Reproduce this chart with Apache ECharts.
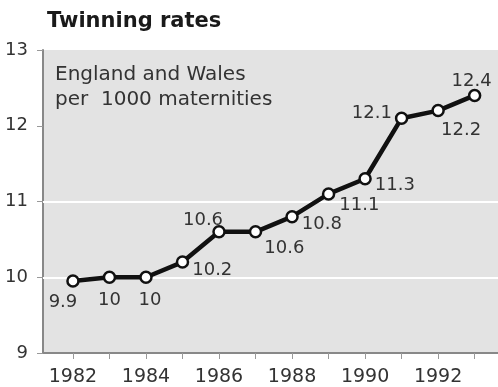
<!DOCTYPE html>
<html>
<head>
<meta charset="utf-8">
<script src="https://cdn.jsdelivr.net/npm/echarts@6/dist/echarts.min.js"></script>
<style>
  html, body { margin: 0; padding: 0; background: #fff; }
  #main { width: 498px; height: 387px; }
</style>
</head>
<body>
<div id="main"></div>
<script>
  // data
  var years = [1982, 1983, 1984, 1985, 1986, 1987, 1988, 1989, 1990, 1991, 1992, 1993];
  var rates = [9.95, 10, 10, 10.2, 10.6, 10.6, 10.8, 11.1, 11.3, 12.1, 12.2, 12.4];
  var rateLabels = ['9.9', '10', '10', '10.2', '10.6', '10.6', '10.8', '11.1', '11.3', '12.1', '12.2', '12.4'];
  var yearTicks = [1982, 1984, 1986, 1988, 1990, 1992];
  var whiteLines = [10, 11];

  // where each value label sits around its point (layout only)
  var labelPlace = [
    ['bottom', [-10, 0]], ['bottom', [0, 1]], ['bottom', [4, 1]], ['right', [-3, 8]],
    ['top', [-16, 10]], ['right', [-4, 17]], ['right', [-3, 8]], ['right', [-2, 11]],
    ['right', [-3, 7]], ['left', [3, -5]], ['bottom', [23, -2]], ['top', [-3, 8]]
  ];

  var font = '"DejaVu Sans", Verdana, sans-serif';
  var chart = echarts.init(document.getElementById('main'));

  var points = years.map(function (y, i) {
    return {
      value: [y, rates[i]],
      label: { position: labelPlace[i][0], offset: labelPlace[i][1], formatter: rateLabels[i] }
    };
  });

  chart.setOption({
    animation: false,
    title: {
      text: 'Twinning rates',
      left: 42,
      top: 6,
      textStyle: { fontFamily: font, fontSize: 21, fontWeight: 'bold', color: '#1a1a1a' }
    },
    graphic: [{
      type: 'text',
      left: 55,
      top: 62,
      z: 10,
      style: {
        text: 'England and Wales\nper  1000 maternities',
        font: '20px ' + font,
        fill: '#333',
        lineHeight: 25
      }
    }],
    grid: {
      left: 43, right: 0, top: 50, bottom: 33,
      show: true,
      backgroundColor: '#e3e3e3',
      borderWidth: 0
    },
    xAxis: {
      type: 'value',
      min: 1981.18,
      max: 1993.64,
      axisLine: { lineStyle: { color: '#888', width: 2 } },
      axisTick: { show: true, customValues: years, length: 6, lineStyle: { color: '#999' } },
      axisLabel: {
        customValues: yearTicks,
        formatter: function (v) { return String(v); },
        fontFamily: font, fontSize: 19, color: '#333', margin: 15
      },
      splitLine: { show: false }
    },
    yAxis: {
      type: 'value',
      min: 9,
      max: 13,
      interval: 1,
      axisLine: { show: true, lineStyle: { color: '#888', width: 2 } },
      axisTick: { show: true, length: 6, lineStyle: { color: '#999' } },
      axisLabel: { fontFamily: font, fontSize: 18, color: '#333', margin: 15 },
      splitLine: { show: false }
    },
    series: [{
      type: 'line',
      data: points,
      symbol: 'circle',
      symbolSize: 11,
      lineStyle: { color: '#111', width: 4.5 },
      itemStyle: { color: '#fff', borderColor: '#111', borderWidth: 2.5 },
      label: {
        show: true,
        fontFamily: font,
        fontSize: 18,
        color: '#333',
        distance: 6
      },
      markLine: {
        silent: true,
        symbol: 'none',
        z: 1,
        label: { show: false },
        lineStyle: { color: '#fff', width: 2, type: 'solid' },
        data: whiteLines.map(function (v) { return { yAxis: v }; })
      },
      z: 3
    }]
  });
</script>
</body>
</html>
